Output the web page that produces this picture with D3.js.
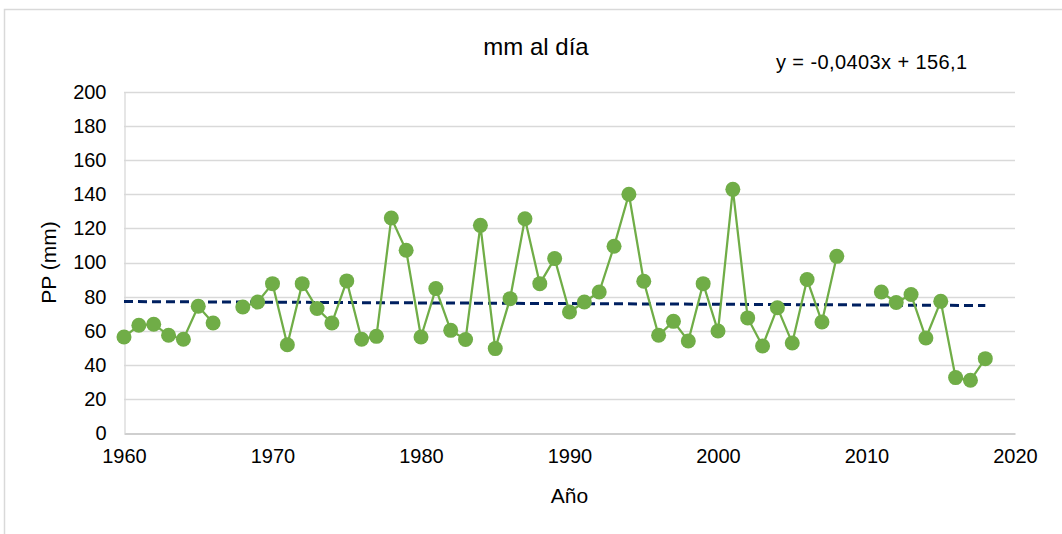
<!DOCTYPE html>
<html>
<head>
<meta charset="utf-8">
<script src="https://cdn.jsdelivr.net/npm/d3@7"></script>
<style>
  body { margin: 0; background: #fff; }
  text { font-family: "Liberation Sans", Arial, sans-serif; fill: #000; }
</style>
</head>
<body>
<div id="chart-container"></div>
<script>
// data (null = no value that year)
var years = d3.range(1960, 2019);
var values = [
  56.3, 63.2, 63.8, 57.3, 55.0, 74.3, 64.5, null, 73.9, 76.8,
  87.6, 51.8, 87.6, 73.0, 64.5, 89.2, 55.0, 56.7, 126.1, 107.2,
  56.3, 84.7, 60.2, 54.8, 121.8, 49.5, 78.8, 125.7, 87.6, 102.3,
  71.0, 76.8, 82.7, 109.5, 140.0, 89.0, 57.3, 65.5, 54.0, 87.6,
  59.8, 142.9, 67.5, 51.0, 73.5, 52.8, 90.0, 65.1, 103.6, null,
  null, 82.7, 76.5, 81.2, 55.7, 77.2, 32.5, 30.9, 43.6
];
var yTicks = [0, 20, 40, 60, 80, 100, 120, 140, 160, 180, 200];
var xTicks = [1960, 1970, 1980, 1990, 2000, 2010, 2020];
var trendSlope = -0.0403, trendIntercept = 156.1;

var data = years.map(function(y, i) { return { year: y, value: values[i] }; });

var W = 1062, H = 534;
var margin = { top: 92, right: 47, bottom: 101, left: 124 },
    width = W - margin.left - margin.right,
    height = H - margin.top - margin.bottom;

var root = d3.select("#chart-container")
    .append("svg")
    .attr("width", W)
    .attr("height", H);

// chart frame
root.append("rect")
    .attr("x", 4.5).attr("y", 9.5)
    .attr("width", 1100).attr("height", 600)
    .attr("fill", "none")
    .attr("stroke", "#d9d9d9")
    .attr("stroke-width", 1.5);

var svg = root.append("g")
    .attr("transform", "translate(" + margin.left + "," + margin.top + ")");

var x = d3.scaleLinear().domain([1960, 2020]).range([0, width]);
var y = d3.scaleLinear().domain([0, 200]).range([height, 0]);

// gridlines
svg.append("g")
    .selectAll("line")
    .data(yTicks.filter(function(d) { return d > 0; }))
    .enter().append("line")
    .attr("x1", 0).attr("x2", width)
    .attr("y1", function(d) { return Math.round(y(d)) + 0.5; })
    .attr("y2", function(d) { return Math.round(y(d)) + 0.5; })
    .attr("stroke", "#d9d9d9")
    .attr("stroke-width", 1.3);

// axes
var xAxis = svg.append("g")
    .attr("transform", "translate(0," + (Math.round(height) + 0.5) + ")")
    .call(d3.axisBottom(x).tickValues(xTicks).tickFormat(d3.format("d")).tickSize(0).tickPadding(15));
xAxis.select(".domain").attr("stroke", "#bfbfbf").attr("stroke-width", 1.3);
xAxis.selectAll("text").style("font-size", "20px");

var yAxis = svg.append("g")
    .attr("transform", "translate(0.5,0)")
    .call(d3.axisLeft(y).tickValues(yTicks).tickSize(0).tickPadding(18));
yAxis.select(".domain").attr("stroke", "#d9d9d9").attr("stroke-width", 1.3);
yAxis.selectAll("text").style("font-size", "20px");

// trend line from the fitted equation
var trendLine = d3.line()
    .x(function(d) { return x(d); })
    .y(function(d) { return y(trendSlope * d + trendIntercept); });
svg.append("path")
    .datum([years[0], years[years.length - 1]])
    .attr("d", trendLine)
    .attr("fill", "none")
    .attr("stroke", "#002060")
    .attr("stroke-width", 3)
    .attr("stroke-dasharray", "9,5");

// series line, broken where data is missing
var line = d3.line()
    .defined(function(d) { return d.value != null; })
    .x(function(d) { return x(d.year); })
    .y(function(d) { return y(d.value); });
svg.append("path")
    .datum(data)
    .attr("d", line)
    .attr("fill", "none")
    .attr("stroke", "#70ad47")
    .attr("stroke-width", 2.25);

svg.selectAll(".dot")
    .data(data.filter(function(d) { return d.value != null; }))
    .enter().append("circle")
    .attr("class", "dot")
    .attr("cx", function(d) { return x(d.year); })
    .attr("cy", function(d) { return y(d.value); })
    .attr("r", 7.5)
    .attr("fill", "#70ad47");

// titles
root.append("text")
    .attr("x", 536).attr("y", 55)
    .attr("text-anchor", "middle")
    .style("font-size", "24px")
    .text("mm  al  día");

root.append("text")
    .attr("x", 776).attr("y", 69)
    .style("font-size", "20px")
    .style("letter-spacing", "0.4px")
    .text("y = -0,0403x + 156,1");

root.append("text")
    .attr("x", margin.left + width / 2).attr("y", 503)
    .attr("text-anchor", "middle")
    .style("font-size", "21px")
    .text("Año");

root.append("text")
    .attr("transform", "translate(56," + (margin.top + height / 2) + ") rotate(-90)")
    .attr("text-anchor", "middle")
    .style("font-size", "21px")
    .text("PP (mm)");
</script>
</body>
</html>
